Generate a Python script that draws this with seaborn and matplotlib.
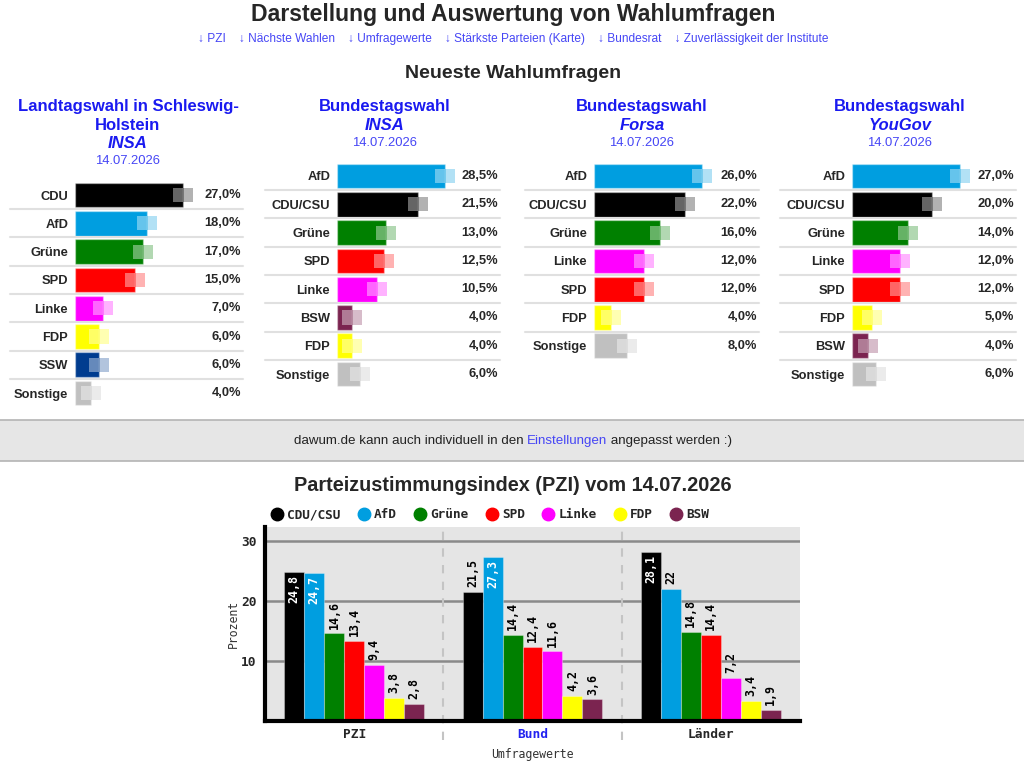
import matplotlib
matplotlib.use("Agg")
import matplotlib.pyplot as plt
from matplotlib.lines import Line2D
from matplotlib.patches import Rectangle
import seaborn as sns
import pandas as pd

# Daten
sh_parteien = ['CDU', 'AfD', 'Grüne', 'SPD', 'Linke', 'FDP', 'SSW', 'Sonstige']
sh_werte = [27.0, 18.0, 17.0, 15.0, 7.0, 6.0, 6.0, 4.0]
insa_parteien = ['AfD', 'CDU/CSU', 'Grüne', 'SPD', 'Linke', 'BSW', 'FDP', 'Sonstige']
insa_werte = [28.5, 21.5, 13.0, 12.5, 10.5, 4.0, 4.0, 6.0]
forsa_parteien = ['AfD', 'CDU/CSU', 'Grüne', 'Linke', 'SPD', 'FDP', 'Sonstige']
forsa_werte = [26.0, 22.0, 16.0, 12.0, 12.0, 4.0, 8.0]
yougov_parteien = ['AfD', 'CDU/CSU', 'Grüne', 'Linke', 'SPD', 'FDP', 'BSW', 'Sonstige']
yougov_werte = [27.0, 20.0, 14.0, 12.0, 12.0, 5.0, 4.0, 6.0]

pzi_parteien = ['CDU/CSU', 'AfD', 'Grüne', 'SPD', 'Linke', 'FDP', 'BSW']
pzi_gruppen = ['PZI', 'Bund', 'Länder']
pzi_werte = [24.8, 24.7, 14.6, 13.4, 9.4, 3.8, 2.8]
bund_werte = [21.5, 27.3, 14.4, 12.4, 11.6, 4.2, 3.6]
laender_werte = [28.1, 22.0, 14.8, 14.4, 7.2, 3.4, 1.9]

links = ['↓ PZI', '↓ Nächste Wahlen', '↓ Umfragewerte', '↓ Stärkste Parteien (Karte)',
         '↓ Bundesrat', '↓ Zuverlässigkeit der Institute']

farben = {
    'CDU': '#000000', 'CDU/CSU': '#000000', 'AfD': '#009ee0', 'Grüne': '#008000',
    'SPD': '#ff0000', 'Linke': '#ff00ff', 'FDP': '#ffff00', 'SSW': '#003c8f',
    'BSW': '#7b2450', 'Sonstige': '#c0c0c0',
}

sns.set_style('white')
plt.rcParams['font.family'] = ['Liberation Sans', 'DejaVu Sans']

W, H = 1024, 767
fig = plt.figure(figsize=(W / 100, H / 100), dpi=100)
fig.patch.set_facecolor('white')


def fx(x):
    return x / W


def fy(y):
    return 1 - y / H


def px_axes(x0, y0, x1, y1):
    return fig.add_axes([fx(x0), fy(y1), (x1 - x0) / W, (y1 - y0) / H])


BLAU = '#1a1af0'
BLAU_HELL = '#4646f5'

# Kopf
fig.text(fx(513), fy(15), 'Darstellung und Auswertung von Wahlumfragen', ha='center', va='center',
         fontsize=16.6, fontweight='bold')
fig.text(fx(513), fy(39), '    '.join(links), ha='center', va='center', fontsize=8.6, color=BLAU_HELL)
fig.text(fx(513), fy(73), 'Neueste Wahlumfragen', ha='center', va='center', fontsize=14,
         fontweight='bold')

# kleine Umfrage-Panels
panels = [
    dict(titel=['Landtagswahl in Schleswig-', 'Holstein'], inst='INSA', parteien=sh_parteien,
         werte=sh_werte, x0=75, x1=241, row0=195, sep=10, cx=128),
    dict(titel=['Bundestagswahl'], inst='INSA', parteien=insa_parteien, werte=insa_werte,
         x0=337, x1=498, row0=176, sep=265, cx=385),
    dict(titel=['Bundestagswahl'], inst='Forsa', parteien=forsa_parteien, werte=forsa_werte,
         x0=594, x1=757, row0=176, sep=525, cx=642),
    dict(titel=['Bundestagswahl'], inst='YouGov', parteien=yougov_parteien, werte=yougov_werte,
         x0=852, x1=1014, row0=176, sep=780, cx=900),
]
ROW = 28.3
for p in panels:
    y = 106
    for zeile in p['titel']:
        fig.text(fx(p['cx']), fy(y), zeile, ha='center', va='center', fontsize=12,
                 fontweight='bold', color=BLAU)
        y += 19
    fig.text(fx(p['cx']), fy(y), p['inst'], ha='center', va='center', fontsize=12,
             fontweight='bold', fontstyle='italic', color=BLAU)
    fig.text(fx(p['cx']), fy(y + 17.5), '14.07.2026', ha='center', va='center', fontsize=9.4,
             color=BLAU_HELL)

    n = len(p['parteien'])
    top = p['row0'] - ROW / 2
    ax = px_axes(p['x0'], top, p['x1'], top + n * ROW)
    breite = p['x1'] - p['x0']
    maxv = max(p['werte'])
    sns.barplot(x=p['werte'], y=p['parteien'], hue=p['parteien'], orient='h',
                palette=[farben[k] for k in p['parteien']], saturation=1, width=0.87,
                legend=False, ax=ax, edgecolor=(1, 1, 1, 0.35), linewidth=1)
    ax.set_xlim(0, maxv * breite / 108)
    ax.set_ylim(n - 0.5, -0.5)
    d = 10 * maxv / 108
    for i, (partei, v) in enumerate(zip(p['parteien'], p['werte'])):
        ax.barh(i, d, left=v - d, height=0.5, color='white', alpha=0.4, lw=0)
        ax.barh(i, d, left=v, height=0.5, color=farben[partei], alpha=0.3, lw=0)
        ax.text(1.0, i, f'{v:.1f}%'.replace('.', ','), transform=ax.get_yaxis_transform(),
                ha='right', va='center', fontsize=9.3, fontweight='bold')
    for i in range(n - 1):
        ax.axhline(i + 0.5, xmin=(p['sep'] - p['x0']) / breite, xmax=1.01, color='#e0e0e0',
                   lw=1.5, clip_on=False)
    ax.set_yticks(range(n))
    ax.set_yticklabels(p['parteien'], fontsize=9.3, fontweight='bold')
    ax.tick_params(axis='y', length=0, pad=5)
    ax.set_xticks([])
    ax.set_xlabel('')
    ax.set_ylabel('')
    sns.despine(ax=ax, left=True, bottom=True)

# Hinweis-Balken
fig.add_artist(Rectangle((0, fy(461)), 1, 41 / H, transform=fig.transFigure,
                         facecolor='#e6e6e6', edgecolor='none'))
for yy in (420, 461):
    fig.add_artist(Line2D([0, 1], [fy(yy), fy(yy)], transform=fig.transFigure,
                          color='#b4b4b4', lw=1.2))
renderer = fig.canvas.get_renderer()
stuecke = [('dawum.de kann auch individuell in den ', '#222222'), ('Einstellungen', BLAU_HELL),
           (' angepasst werden :)', '#222222')]
texte = [fig.text(0, fy(441), s, color=c, va='center', fontsize=9.6) for s, c in stuecke]
breiten = [t.get_window_extent(renderer).width for t in texte]
x = 513 - sum(breiten) / 2
for t, b in zip(texte, breiten):
    t.set_x(fx(x))
    x += b

# PZI-Diagramm
fig.text(fx(513), fy(486), 'Parteizustimmungsindex (PZI) vom 14.07.2026', ha='center',
         va='center', fontsize=14.3, fontweight='bold')

df = pd.DataFrame({
    'gruppe': [g for g in pzi_gruppen for _ in pzi_parteien],
    'partei': pzi_parteien * 3,
    'wert': pzi_werte + bund_werte + laender_werte,
})
MONO = ['DejaVu Sans Mono']
ax = px_axes(265, 527, 800, 721)
ax.set_facecolor('#e5e5e5')
sns.barplot(data=df, x='gruppe', y='wert', hue='partei', hue_order=pzi_parteien,
            palette=farben, saturation=1, width=0.785, legend=False, ax=ax,
            edgecolor=(1, 1, 1, 0.3), linewidth=0.8)
ax.set_ylim(0, 32.3)
ax.set_xlim(-0.5, 2.5)
ax.set_yticks([10, 20, 30])
ax.yaxis.grid(True, color='#8a8a8a', lw=1.8)
ax.xaxis.grid(False)
ax.set_axisbelow(True)
for xs in (0.5, 1.5):
    ax.axvline(xs, ymin=-0.1, ymax=1, color='#c4c4c4', lw=1.5, ls=(0, (4, 4)), clip_on=False)

for cont, partei in zip(ax.containers, pzi_parteien):
    for bar in cont:
        v = bar.get_height()
        s = f'{v:g}'.replace('.', ',')
        xc = bar.get_x() + bar.get_width() / 2
        if v > 24:
            ax.text(xc, v - 0.5, s, rotation=90, ha='center', va='top', color='white',
                    fontsize=8.4, fontweight='bold', family=MONO)
        else:
            ax.text(xc, v + 0.8, s, rotation=90, ha='center', va='bottom', color='black',
                    fontsize=8.4, fontweight='bold', family=MONO)

for side in ('top', 'right'):
    ax.spines[side].set_visible(False)
for side in ('left', 'bottom'):
    ax.spines[side].set_linewidth(3)
    ax.spines[side].set_color('black')
ax.tick_params(axis='both', length=0)
ax.tick_params(axis='y', pad=6)
ax.tick_params(axis='x', pad=5)
for lab in ax.get_yticklabels() + ax.get_xticklabels():
    lab.set_family(MONO)
    lab.set_fontweight('bold')
    lab.set_fontsize(9.3)
ax.get_xticklabels()[1].set_color('#2323f0')
ax.set_xlabel('Umfragewerte', family=MONO, fontsize=8.3, color='#333333', labelpad=5)
ax.set_ylabel('Prozent', family=MONO, fontsize=8.3, color='#333333', labelpad=1)

handles = [Line2D([], [], marker='o', ls='', markersize=9, markerfacecolor=farben[k],
                  markeredgecolor=farben[k]) for k in pzi_parteien]
ax.legend(handles, pzi_parteien, ncol=7, loc='center left', frameon=False,
          bbox_to_anchor=(fx(272), fy(515)), bbox_transform=fig.transFigure,
          handlelength=0.8, handletextpad=0.4, columnspacing=1.42, borderpad=0,
          borderaxespad=0, prop=dict(family=MONO, weight='bold', size=9.2))

fig.savefig('out.png', dpi=100)
